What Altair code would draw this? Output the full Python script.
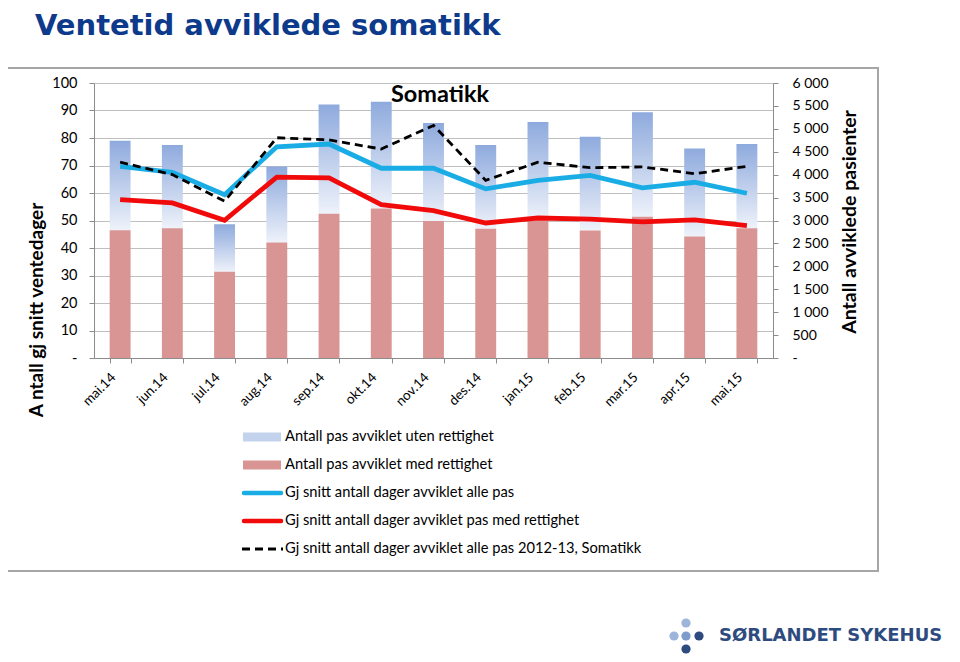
import altair as alt
import pandas as pd

months = ["mai.14", "jun.14", "jul.14", "aug.14", "sep.14", "okt.14", "nov.14",
          "des.14", "jan.15", "feb.15", "mar.15", "apr.15", "mai.15"]
# Antall pasienter (right axis)
med_rett = [2790, 2830, 1880, 2520, 3150, 3260, 2990, 2820, 3000, 2780, 3080, 2650, 2830]
uten_rett = [1950, 1820, 1040, 1660, 2380, 2330, 2140, 1830, 2150, 2050, 2280, 1920, 1840]
# Gj snitt dager (left axis)
snitt_alle = [69.7, 67.5, 59.4, 76.8, 77.8, 69.0, 69.0, 61.5, 64.6, 66.4, 61.9, 63.9, 59.9]
snitt_med = [57.6, 56.4, 50.1, 65.8, 65.5, 55.8, 53.6, 49.1, 50.9, 50.5, 49.5, 50.2, 48.1]
snitt_ref = [71.2, 66.7, 57.0, 80.1, 79.3, 76.0, 84.6, 64.6, 71.2, 69.2, 69.5, 67.0, 69.7]

legend_labels = [
    "Antall pas avviklet uten rettighet",
    "Antall pas avviklet med rettighet",
    "Gj snitt antall dager avviklet alle pas",
    "Gj snitt antall dager avviklet pas med rettighet",
    "Gj snitt antall dager avviklet alle pas 2012-13, Somatikk",
]

df = pd.DataFrame({"mnd": months, "med": med_rett, "uten": uten_rett,
                   "alle": snitt_alle, "medd": snitt_med, "ref": snitt_ref})

FONT = "Lato"
W, H = 679, 275

X = alt.X("mnd:N", sort=months,
          scale=alt.Scale(paddingInner=0.6, paddingOuter=0.3),
          axis=alt.Axis(title=None, labelAngle=315, labelAlign="right",
                        labelBaseline="middle", labelFontSize=13.5, labelFont=FONT,
                        labelColor="black", tickBand="extent", tickSize=5,
                        tickColor="#8C8C8C", domainColor="#8C8C8C", grid=False,
                        labelPadding=12, labelOffset=-7))

right_axis = alt.Axis(orient="right", title=None, values=list(range(0, 6001, 500)),
                      labelExpr="datum.value == 0 ? '-' : replace(format(datum.value, ','), ',', ' ')",
                      grid=False, tickSize=5, tickColor="#8C8C8C", domainColor="#8C8C8C",
                      labelFontSize=14, labelFont=FONT, labelColor="black", labelPadding=14,
                      labelAlign="left")
left_axis = alt.Axis(orient="left", title=None, values=list(range(0, 101, 10)),
                     labelExpr="datum.value == 0 ? '-' : datum.label",
                     grid=True, gridColor="#BFBFBF", tickSize=5, tickColor="#8C8C8C",
                     domainColor="#8C8C8C", labelFontSize=14.5, labelFont=FONT,
                     labelColor="black", labelPadding=12)

ys_right = alt.Scale(domain=[0, 6000], nice=False)
ys_left = alt.Scale(domain=[0, 100], nice=False)

grad = alt.LinearGradient(
    gradient="linear", x1=0, x2=0, y1=0, y2=1,
    stops=[alt.GradientStop(color="#8EAADD", offset=0),
           alt.GradientStop(color="#EEF2FA", offset=1)])

one = alt.Data(values=[{"k": 0}])

frame = alt.Chart(one).mark_rect(fill="white", fillOpacity=0, stroke="#A6A6A6",
                                 strokeWidth=2).encode(
    x=alt.value(-92), x2=alt.value(784), y=alt.value(-15), y2=alt.value(488))

base = alt.Chart(df)
blue = base.transform_calculate(total="datum.med + datum.uten").mark_bar(color=grad).encode(
    x=X, y=alt.Y("total:Q", scale=ys_right, axis=right_axis), y2="med:Q")
red = base.mark_bar(color="#D99594").encode(
    x=X, y=alt.Y("med:Q", scale=ys_right, axis=right_axis))

bars = alt.layer(frame, blue, red)

l_alle = base.mark_line(color="#1AADE5", strokeWidth=4.8).encode(
    x=X, y=alt.Y("alle:Q", scale=ys_left, axis=left_axis))
l_med = base.mark_line(color="#F00A0A", strokeWidth=4.8).encode(
    x=X, y=alt.Y("medd:Q", scale=ys_left, axis=left_axis))
l_ref = base.mark_line(color="black", strokeWidth=2.8, strokeDash=[8, 5]).encode(
    x=X, y=alt.Y("ref:Q", scale=ys_left, axis=left_axis))


def txt(t, x, y, size, font=FONT, weight="normal", color="black", align="left",
        baseline="middle", angle=0):
    kw = dict(font=font, fontSize=size, fontWeight=weight, color=color,
              align=align, baseline=baseline)
    if angle:
        kw["angle"] = angle
    return alt.Chart(alt.Data(values=[{"t": t}])).mark_text(**kw).encode(
        text="t:N", x=alt.value(x), y=alt.value(y))


deco = [
    txt("Ventetid avviklede somatikk", -59, -48, 29, font="DejaVu Sans",
        weight="bold", color="#0E3A8B", baseline="alphabetic"),
    txt("Somatikk", 346, 19, 23.5, weight="bold", align="center", baseline="alphabetic"),
    txt("A ntall gj snitt ventedager", -57, 227, 19, weight="bold",
        align="center", angle=270),
    txt("Antall avviklede  pasienter", 756, 139, 19.5, weight="bold",
        align="center", angle=270),
]

leg_y = [354, 382, 410, 438, 466]
sw_colors = ["#C3D3EE", "#D99594"]
for i, lab in enumerate(legend_labels):
    deco.append(txt(lab, 191, leg_y[i], 14.7))
    if i < 2:
        deco.append(alt.Chart(one).mark_rule(color=sw_colors[i], strokeWidth=9,
                                             strokeCap="butt").encode(
            x=alt.value(149), x2=alt.value(187), y=alt.value(leg_y[i])))
    elif i < 4:
        c = "#1AADE5" if i == 2 else "#F00A0A"
        deco.append(alt.Chart(one).mark_rule(color=c, strokeWidth=4.5,
                                             strokeCap="round").encode(
            x=alt.value(150), x2=alt.value(187), y=alt.value(leg_y[i])))
    else:
        deco.append(alt.Chart(one).mark_rule(color="black", strokeWidth=2.8,
                                             strokeDash=[8, 5]).encode(
            x=alt.value(148), x2=alt.value(189), y=alt.value(leg_y[i])))

# logo
dot_specs = [(592, 540, "#9DB5DB"), (580, 553, "#9DB5DB"), (592, 553, "#7E9CCB"),
             (605, 553, "#2E4B80"), (592, 566, "#2E4B80")]
for dx, dy, c in dot_specs:
    deco.append(alt.Chart(one).mark_circle(size=85, color=c, opacity=1).encode(
        x=alt.value(dx), y=alt.value(dy)))
deco.append(txt("SØRLANDET SYKEHUS", 625, 553, 18, font="DejaVu Sans",
                weight="bold", color="#2E4B80"))

lines = alt.layer(l_alle, l_med, l_ref, *deco)

chart = alt.layer(bars, lines).resolve_scale(y="independent").properties(
    width=W, height=H,
    padding={"left": 86, "top": 75, "right": 179, "bottom": 296},
    autosize=alt.AutoSizeParams(type="none"),
    background="white",
).configure_view(strokeWidth=0)

chart.save("out.html", embed_options={"renderer": "svg", "actions": False})
